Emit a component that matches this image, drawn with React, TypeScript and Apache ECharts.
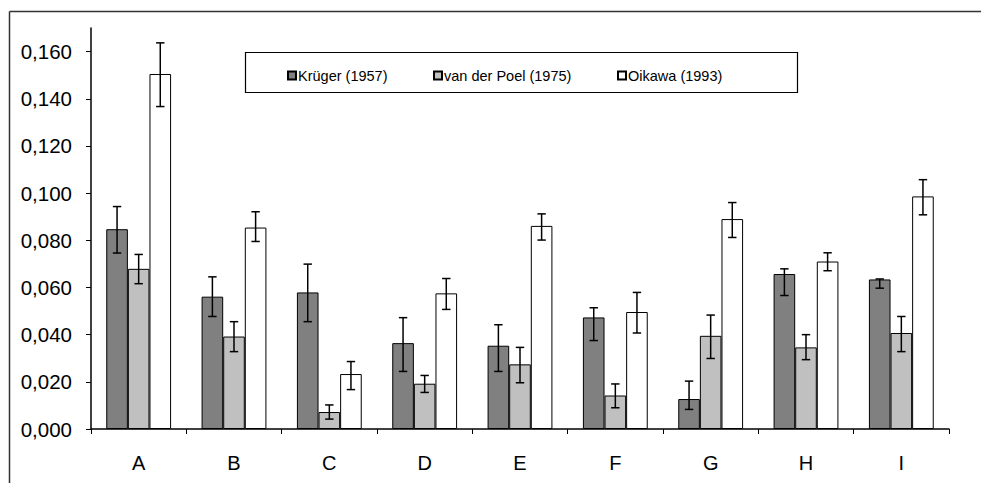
import React, { useEffect, useRef } from "react";
import * as echarts from "echarts";

const categories = ["A", "B", "C", "D", "E", "F", "G", "H", "I"];
const seriesNames = ["Krüger (1957)", "van der Poel (1975)", "Oikawa (1993)"];

const kruger = [0.0847, 0.0561, 0.0579, 0.0364, 0.0353, 0.0473, 0.0127, 0.0657, 0.0634];
const krugerHigh = [0.0943, 0.0645, 0.0699, 0.0472, 0.0442, 0.0514, 0.0203, 0.0679, 0.0636];
const krugerLow = [0.0746, 0.0477, 0.0455, 0.0244, 0.0244, 0.0375, 0.0083, 0.0566, 0.0597];

const vanDerPoel = [0.0679, 0.0392, 0.0072, 0.0192, 0.0274, 0.0142, 0.0395, 0.0346, 0.0407];
const vanDerPoelHigh = [0.074, 0.0455, 0.0102, 0.0227, 0.0346, 0.0191, 0.0483, 0.04, 0.0477];
const vanDerPoelLow = [0.0616, 0.0328, 0.0042, 0.0155, 0.0196, 0.009, 0.0299, 0.0294, 0.0328];

const oikawa = [0.1505, 0.0854, 0.0233, 0.0575, 0.0861, 0.0496, 0.089, 0.071, 0.0986];
const oikawaHigh = [0.1637, 0.0921, 0.0286, 0.0638, 0.0912, 0.0579, 0.096, 0.0747, 0.1057];
const oikawaLow = [0.1367, 0.0795, 0.0167, 0.0507, 0.0801, 0.0407, 0.0812, 0.0671, 0.0908];

const yTicks = [0, 0.02, 0.04, 0.06, 0.08, 0.1, 0.12, 0.14, 0.16];

const colors = ["#808080", "#C0C0C0", "#FFFFFF"];
const FONT = "'Liberation Sans', Arial, sans-serif";

export default function App() {
  const ref = useRef<HTMLDivElement>(null);

  useEffect(() => {
    if (!ref.current) return;
    const chart = echarts.init(ref.current, null, { renderer: "svg" });
    const values = [kruger, vanDerPoel, oikawa];
    const highs = [krugerHigh, vanDerPoelHigh, oikawaHigh];
    const lows = [krugerLow, vanDerPoelLow, oikawaLow];
    const catGap = 0.32;

    const barSeries = values.map((v, k) => ({
      type: "bar",
      name: seriesNames[k],
      data: v,
      barGap: "0%",
      barCategoryGap: "32%",
      itemStyle: { color: colors[k], borderColor: "#000", borderWidth: 1 },
      emphasis: { disabled: true },
    }));

    const errSeries = values.map((v, k) => ({
      type: "custom",
      name: "err" + k,
      silent: true,
      z: 10,
      encode: { x: 0, y: [1, 2] },
      data: categories.map((_, i) => [i, highs[k][i], lows[k][i]]),
      renderItem: (params: any, api: any) => {
        const cat = api.value(0);
        const hi = api.coord([cat, api.value(1)]);
        const lo = api.coord([cat, api.value(2)]);
        const band = api.size([1, 0])[0];
        const barW = (band * (1 - catGap)) / 3;
        const x = hi[0] + (k - 1) * barW;
        const hw = 4.2;
        const style = { stroke: "#000", lineWidth: 1.5 };
        return {
          type: "group",
          children: [
            { type: "line", shape: { x1: x, y1: hi[1], x2: x, y2: lo[1] }, style },
            { type: "line", shape: { x1: x - hw, y1: hi[1], x2: x + hw, y2: hi[1] }, style },
            { type: "line", shape: { x1: x - hw, y1: lo[1], x2: x + hw, y2: lo[1] }, style },
          ],
        };
      },
    }));

    const legendLefts = [287, 433, 617];
    const legends = seriesNames.map((n, k) => ({
      data: [n],
      left: legendLefts[k],
      top: 68,
      padding: 0,
      icon: "rect",
      itemWidth: 8,
      itemHeight: 8,
      selectedMode: false,
      textStyle: { fontFamily: FONT, fontSize: 14.5, color: "#000", padding: [0, 0, 0, -3] },
    }));

    chart.setOption({
      animation: false,
      backgroundColor: "#fff",
      textStyle: { fontFamily: FONT },
      grid: { left: 91, right: 32, top: 28, bottom: 54, containLabel: false },
      legend: legends,
      graphic: [
        { type: "line", shape: { x1: 9.5, y1: 11.5, x2: 981, y2: 11.5 }, style: { stroke: "#333", lineWidth: 1.5 } },
        { type: "line", shape: { x1: 9.5, y1: 11.5, x2: 9.5, y2: 483 }, style: { stroke: "#333", lineWidth: 1.5 } },
        { type: "rect", shape: { x: 245.5, y: 52.5, width: 552, height: 40 }, style: { fill: "#fff", stroke: "#000", lineWidth: 1.2 }, z: -1 },
      ],
      xAxis: {
        type: "category",
        data: categories,
        axisLine: { lineStyle: { color: "#000", width: 1.5 } },
        axisTick: { show: true, length: 5, lineStyle: { color: "#000", width: 1 } },
        axisLabel: { color: "#000", fontSize: 20, fontFamily: FONT, margin: 24 },
        splitLine: { show: false },
      },
      yAxis: {
        type: "value",
        min: 0,
        max: 0.17,
        axisLine: { show: true, lineStyle: { color: "#000", width: 1.5 } },
        axisTick: { show: true, length: 5, lineStyle: { color: "#000", width: 1 }, customValues: yTicks },
        axisLabel: {
          color: "#000",
          fontSize: 20.5,
          fontFamily: FONT,
          margin: 19,
          customValues: yTicks,
          formatter: (v: number) => v.toFixed(3).replace(".", ","),
        },
        splitLine: { show: false },
      },
      series: [...barSeries, ...errSeries],
    });

    return () => chart.dispose();
  }, []);

  return (
    <div
      ref={ref}
      style={{ position: "fixed", left: 0, top: 0, width: 981, height: 483, background: "#fff" }}
    />
  );
}
